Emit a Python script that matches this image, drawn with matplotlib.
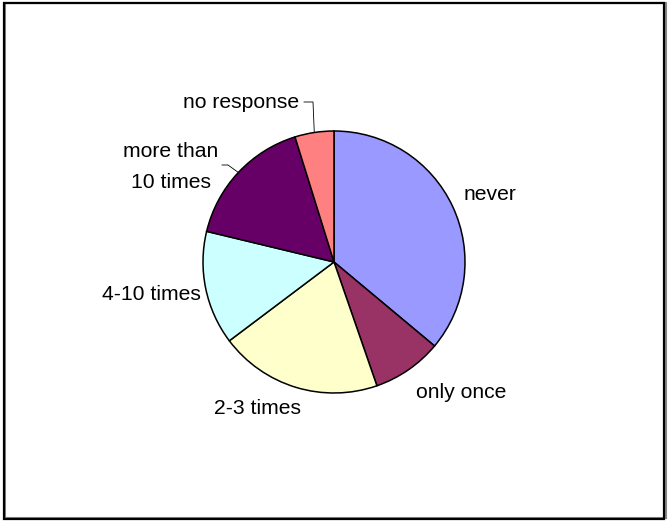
import numpy as np
import matplotlib
matplotlib.use("Agg")
import matplotlib.pyplot as plt
from matplotlib.patches import Rectangle

# answer categories, clockwise from 12 o'clock
labels = ["never", "only once", "2-3 times", "4-10 times", "more than\n10 times", "no response"]
shares = [36, 8.6, 20, 14, 16.4, 4.8]
colors = ["#9999FF", "#993366", "#FFFFCC", "#CCFFFF", "#660066", "#FF8080"]

plt.rcParams["font.family"] = ["Liberation Sans", "DejaVu Sans"]

W, H = 668, 523
fig = plt.figure(figsize=(W / 100, H / 100), dpi=100)
ax = fig.add_axes([0, 0, 1, 1])

cx, cy, R = 334, 262, 131
wedges, _ = ax.pie(shares, colors=colors, startangle=90, counterclock=False,
                   center=(cx, cy), radius=R, frame=True,
                   wedgeprops=dict(edgecolor="black", linewidth=1.1))
ax.set_xlim(0, W)
ax.set_ylim(H, 0)
ax.set_aspect("equal")
ax.axis("off")

# pie drawn with y downward: flip wedges about the centre line
for w in wedges:
    w.set_transform(matplotlib.transforms.Affine2D().scale(1, -1).translate(0, 2 * cy) + ax.transData)

# label spots (pixels)
spots = [(490, 194), (461, 392), (258, 409), (151, 294), (171, 167), (241, 103)]
for lab, (x, y) in zip(labels, spots):
    ax.text(x, y, lab, ha="center", va="center", fontsize=15.2, linespacing=1.75)

# leader lines
def edge(w):
    a = np.deg2rad((w.theta1 + w.theta2) / 2)
    return cx + R * np.cos(a), cy - R * np.sin(a)

ex, ey = edge(wedges[5])
ax.plot([304, 313, ex], [102, 102, ey], color="black", lw=0.6)
ex, ey = edge(wedges[4])
ax.plot([222, 228, ex], [165, 165, ey], color="black", lw=0.6)

# chart frame
fig.patches.append(Rectangle((5 / W, 5 / H), 661 / W, 515 / H, transform=fig.transFigure,
                             fill=False, edgecolor="#888888", lw=1.5))
fig.patches.append(Rectangle((4 / W, 4 / H), 660 / W, 516 / H, transform=fig.transFigure,
                             fill=False, edgecolor="black", lw=1.6))

fig.savefig("out.png", dpi=100)
